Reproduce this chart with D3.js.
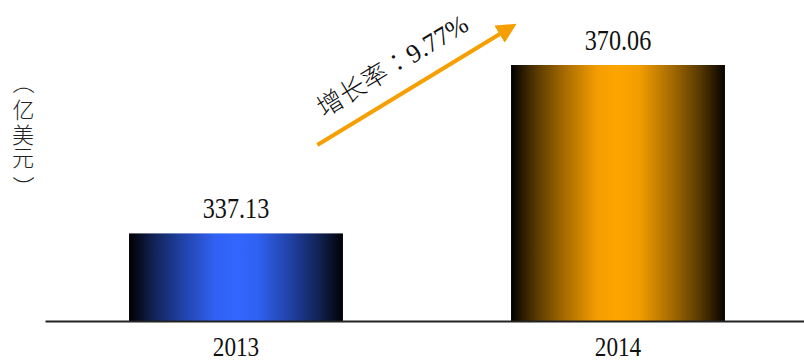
<!DOCTYPE html>
<html><head><meta charset="utf-8">
<script src="https://cdn.jsdelivr.net/npm/d3@7"></script>
<style>html,body{margin:0;padding:0;background:#fff;}svg{display:block;}</style>
</head><body>
<script>
const categories = ["2013", "2014"];
const values = [337.13, 370.06];
const valueLabels = ["337.13", "370.06"];
const growthLabel = "增长率：9.77%";
const yLabel = "（亿美元）";
const barColors = ["#3366ff", "#ffa500"];
const yDomain = [320, 370.06];

const W = 804, H = 362;
const svg = d3.select("body").append("svg").attr("width", W).attr("height", H);
const defs = svg.append("defs");

const x = d3.scaleBand().domain(categories).range([45, 809]).paddingInner(0.44).paddingOuter(0.22);
const y = d3.scaleLinear().domain(yDomain).range([321, 65]);

barColors.forEach((c, i) => {
  const g = defs.append("linearGradient").attr("id", "g" + i).attr("x1", "0").attr("x2", "1").attr("y1", "0").attr("y2", "0");
  const dark = d3.interpolateRgb("#000000", c);
  [[0, 0], [0.12, 0.35], [0.25, 0.65], [0.4, 0.95], [0.5, 1], [0.6, 0.95], [0.75, 0.65], [0.88, 0.35], [1, 0.02]].forEach(([o, t]) => {
    g.append("stop").attr("offset", o).attr("stop-color", dark(t));
  });
});

svg.selectAll("rect.bar").data(values).enter().append("rect")
  .attr("class", "bar")
  .attr("x", (d, i) => x(categories[i]))
  .attr("width", x.bandwidth())
  .attr("y", d => y(d))
  .attr("height", d => y(yDomain[0]) - y(d))
  .attr("fill", (d, i) => `url(#g${i})`);

// axis
const axis = d3.axisBottom(x).tickSize(0).tickPadding(17);
const ax = svg.append("g").attr("transform", `translate(0,${y(yDomain[0])})`).call(axis);
ax.select(".domain").attr("stroke", "#222").attr("stroke-width", 2);
ax.selectAll(".tick text")
  .attr("font-family", "Liberation Serif, serif")
  .attr("font-size", 27)
  .attr("dy", "0.68em")
  .attr("fill", "#111")
  .attr("transform", "scale(0.86,1)");

// value labels
svg.selectAll("g.vl").data(values).enter().append("g")
  .attr("class", "vl")
  .attr("transform", (d, i) => `translate(${x(categories[i]) + x.bandwidth() / 2},${y(d) - 15.5}) scale(0.82,1)`)
  .append("text")
  .attr("text-anchor", "middle")
  .attr("font-family", "Liberation Serif, serif")
  .attr("font-size", 29.5)
  .attr("fill", "#111")
  .text((d, i) => valueLabels[i]);

// arrow
defs.append("marker").attr("id", "ah").attr("viewBox", "0 0 10 10").attr("refX", 5).attr("refY", 5)
  .attr("markerWidth", 5).attr("markerHeight", 5).attr("orient", "auto")
  .append("path").attr("d", "M0,0 L10,5 L0,10 z").attr("fill", "#f5a000");
const a0 = [x(categories[0]) + x.bandwidth() * 0.88, 145];
const a1 = [x(categories[1]) - 3, 29];
svg.append("line").attr("x1", a0[0]).attr("y1", a0[1]).attr("x2", a1[0]).attr("y2", a1[1])
  .attr("stroke", "#f5a000").attr("stroke-width", 4).attr("marker-end", "url(#ah)");
const ang = Math.atan2(a1[1] - a0[1], a1[0] - a0[0]) * 180 / Math.PI;
svg.append("text")
  .attr("transform", `translate(324,118) rotate(${ang})`)
  .attr("font-family", "Liberation Serif, Noto Sans CJK TC, serif")
  .attr("font-size", 26).attr("font-weight", 300)
  .attr("fill", "#111")
  .text(growthLabel);

// y label: one text element, one glyph per position, parentheses turned 90 degrees
const ychars = Array.from(yLabel);
const yPos = [90, 110, 135, 159, 180];
const fontSpec = "300 22px 'Noto Sans CJK SC'";
const ctx = document.createElement("canvas").getContext("2d");
ctx.font = fontSpec;
const xs = [], ys = [], rots = [];
ychars.forEach((c, i) => {
  const m = ctx.measureText(c);
  const ox = (m.actualBoundingBoxRight - m.actualBoundingBoxLeft) / 2;
  const oy = (m.actualBoundingBoxDescent - m.actualBoundingBoxAscent) / 2;
  const isParen = (c === "（" || c === "）");
  if (isParen) {
    xs.push(23 + oy); ys.push(yPos[i] - ox); rots.push(90);
  } else {
    xs.push(23 - ox); ys.push(yPos[i] - oy); rots.push(0);
  }
});
svg.append("text")
  .attr("x", xs.join(" "))
  .attr("y", ys.join(" "))
  .attr("rotate", rots.join(" "))
  .attr("font-family", "Noto Sans CJK SC, sans-serif")
  .attr("font-size", 22).attr("font-weight", 300)
  .attr("fill", "#222")
  .text(yLabel);
</script>
</body></html>
